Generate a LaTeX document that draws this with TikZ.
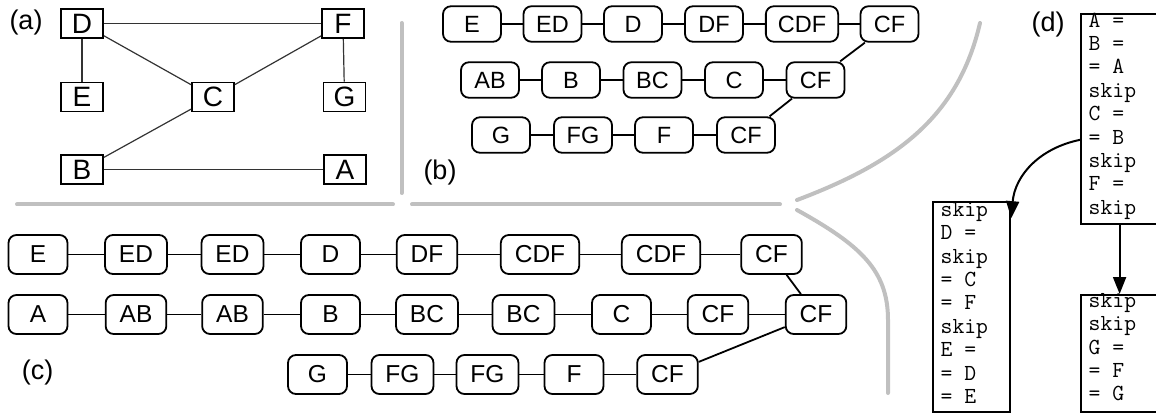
\documentclass[tikz,border=0pt]{standalone}
\usepackage{fontspec}
\setmainfont{Liberation Sans}
\usetikzlibrary{arrows.meta}
\definecolor{sepgray}{RGB}{192,192,192}
\begin{document}
\begin{tikzpicture}[x=1pt,y=-1pt,
  abox/.style={draw, line width=1.8pt, minimum width=42pt, minimum height=29pt, inner sep=0pt, font=\fontsize{28}{30}\selectfont},
  aedge/.style={line width=1.2pt, black!80},
  bbox/.style={draw, line width=1.8pt, rounded corners=8pt, minimum width=58pt, minimum height=35.5pt, inner xsep=12pt, inner ysep=0pt, font=\fontsize{23.5}{26}\selectfont},
  cbox/.style={bbox, minimum width=59pt, minimum height=39pt, inner xsep=14pt, font=\fontsize{24.5}{27}\selectfont},
  link/.style={line width=1.8pt},
  sep/.style={line width=4pt, line cap=round, sepgray},
  lbl/.style={font=\fontsize{27}{30}\selectfont, inner sep=0pt},
  dbox/.style={draw, line width=2.2pt, minimum width=77pt, inner sep=0pt},
  dtext/.style={align=left, inner sep=0pt, font=\ttfamily\fontsize{23}{23.4}\selectfont},
  darrow/.style={line width=2pt, -{Triangle[length=17pt,width=13pt]}},
]
\useasboundingbox (0,0) rectangle (1156,414);

% separators
\draw[sep] (401.5,23) -- (401.5,193);
\draw[sep] (17,204.5) -- (393,204.5);
\draw[sep] (412,204.5) -- (780,204.5);
\draw[sep] (797,200) .. controls (895,163) and (958,118) .. (980,23);
\draw[sep] (797,210) .. controls (860,245) and (888,270) .. (888,320) -- (888,393);

% labels
\node[lbl] (la) at (26,22.5) {(a)};
\node[lbl] (lb) at (440,172.5) {(b)};
\node[lbl] (lc) at (37.5,372.5) {(c)};
\node[lbl] (ld) at (1048,25) {(d)};

% panel (a)
\node[abox] (aD) at (82,23.5) {D};
\node[abox] (aE) at (82,97) {E};
\node[abox] (aC) at (213,97) {C};
\node[abox] (aF) at (343,23.5) {F};
\node[abox] (aG) at (344.5,97) {G};
\node[abox] (aB) at (82,169.5) {B};
\node[abox] (aA) at (345,169.5) {A};
\draw[aedge] (aD) -- (aF);
\draw[aedge] (aD) -- (aE);
\draw[aedge] (aD) -- (aC);
\draw[aedge] (aF) -- (aC);
\draw[aedge] (aF) -- (aG);
\draw[aedge] (aC) -- (aB);
\draw[aedge] (aB) -- (aA);

% panel (b)
\node[bbox] (b11) at (472,24) {E};
\node[bbox] (b12) at (552.5,24) {ED};
\node[bbox] (b13) at (633,24) {D};
\node[bbox] (b14) at (714,24) {DF};
\node[bbox] (b15) at (802,24) {CDF};
\node[bbox] (b16) at (889.5,24) {CF};
\node[bbox] (b21) at (490,80) {AB};
\node[bbox] (b22) at (571,80) {B};
\node[bbox] (b23) at (652.5,80) {BC};
\node[bbox] (b24) at (734,80) {C};
\node[bbox] (b25) at (815.5,80) {CF};
\node[bbox] (b31) at (501,135) {G};
\node[bbox] (b32) at (583,135) {FG};
\node[bbox] (b33) at (664,135) {F};
\node[bbox] (b34) at (746,135) {CF};
\draw[link] (b11) -- (b12) -- (b13) -- (b14) -- (b15) -- (b16);
\draw[link] (b21) -- (b22) -- (b23) -- (b24) -- (b25);
\draw[link] (b31) -- (b32) -- (b33) -- (b34);
\draw[link] (b16) -- (b25);
\draw[link] (b25) -- (b34);

% panel (c)
\node[cbox] (c11) at (38,254.5) {E};
\node[cbox] (c12) at (136,254.5) {ED};
\node[cbox] (c13) at (232.5,254.5) {ED};
\node[cbox] (c14) at (330.5,254.5) {D};
\node[cbox] (c15) at (427,254.5) {DF};
\node[cbox] (c16) at (540,254.5) {CDF};
\node[cbox] (c17) at (661,254.5) {CDF};
\node[cbox] (c18) at (771.5,254.5) {CF};
\node[cbox] (c21) at (38,314.5) {A};
\node[cbox] (c22) at (136,314.5) {AB};
\node[cbox] (c23) at (232.5,314.5) {AB};
\node[cbox] (c24) at (330.5,314.5) {B};
\node[cbox] (c25) at (427,314.5) {BC};
\node[cbox] (c26) at (523.5,314.5) {BC};
\node[cbox] (c27) at (621.5,314.5) {C};
\node[cbox] (c28) at (718,314.5) {CF};
\node[cbox] (c29) at (816,314.5) {CF};
\node[cbox] (c31) at (317.5,374.5) {G};
\node[cbox] (c32) at (402.5,374.5) {FG};
\node[cbox] (c33) at (487.5,374.5) {FG};
\node[cbox] (c34) at (574,374.5) {F};
\node[cbox] (c35) at (667.5,374.5) {CF};
\draw[link] (c11) -- (c12) -- (c13) -- (c14) -- (c15) -- (c16) -- (c17) -- (c18);
\draw[link] (c21) -- (c22) -- (c23) -- (c24) -- (c25) -- (c26) -- (c27) -- (c28) -- (c29);
\draw[link] (c31) -- (c32) -- (c33) -- (c34) -- (c35);
\draw[link] (c18) -- (c29);
\draw[link] (c29) -- (c35);

% panel (d)
\node[dbox, minimum height=210pt, anchor=north west] (d1) at (1080,12.7) {};
\node[dbox, minimum height=210pt, anchor=north west] (dL) at (932,201) {};
\node[dbox, minimum height=117pt, anchor=north west] (dR) at (1080,294) {};
\node[dtext, anchor=north west] (d1t) at (1088.5,12.5) {A =\\B =\\= A\\skip\\C =\\= B\\skip\\F =\\skip};
\node[dtext, anchor=north west] (dLt) at (940.5,202) {skip\\D =\\skip\\= C\\= F\\skip\\E =\\= D\\= E};
\node[dtext, anchor=north west] (dRt) at (1088.5,293) {skip\\skip\\G =\\= F\\= G};
\draw[darrow] (d1.208) .. controls (1040,148) and (1015,175) .. (dL.66);
\draw[darrow] (d1.south) -- (dR.north);
\end{tikzpicture}
\end{document}
